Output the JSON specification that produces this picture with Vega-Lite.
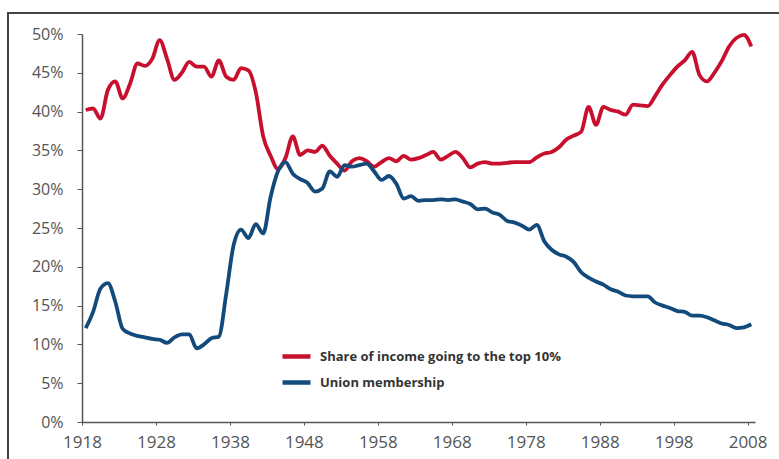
{
  "$schema": "https://vega.github.io/schema/vega-lite/v6.json",
  "width": 673,
  "height": 388,
  "autosize": {"type": "none"},
  "padding": {"left": 82, "top": 34, "right": 24, "bottom": 37},
  "background": "white",
  "config": {"view": {"stroke": null}, "font": "Open Sans"},
  "resolve": {"axis": {"x": "independent", "y": "independent"}},
  "data": {"values": [
    {"t":1918.5,"top10":40.2,"union":12.1},
    {"t":1919.5,"top10":40.4,"union":14.2},
    {"t":1920.5,"top10":39.1,"union":17.2},
    {"t":1921.5,"top10":42.8,"union":17.9},
    {"t":1922.5,"top10":43.9,"union":15.5},
    {"t":1923.5,"top10":41.7,"union":12.0},
    {"t":1924.5,"top10":43.6,"union":11.4},
    {"t":1925.5,"top10":46.2,"union":11.1},
    {"t":1926.5,"top10":45.9,"union":10.9},
    {"t":1927.5,"top10":46.8,"union":10.7},
    {"t":1928.5,"top10":49.2,"union":10.6},
    {"t":1929.5,"top10":46.8,"union":10.2},
    {"t":1930.5,"top10":44.1,"union":10.9},
    {"t":1931.5,"top10":45.0,"union":11.3},
    {"t":1932.5,"top10":46.4,"union":11.3},
    {"t":1933.5,"top10":45.8,"union":9.5},
    {"t":1934.5,"top10":45.8,"union":10.0},
    {"t":1935.5,"top10":44.5,"union":10.8},
    {"t":1936.5,"top10":46.6,"union":11.0},
    {"t":1937.5,"top10":44.5,"union":16.5},
    {"t":1938.5,"top10":44.1,"union":22.8},
    {"t":1939.5,"top10":45.6,"union":24.8},
    {"t":1940.5,"top10":45.3,"union":23.7},
    {"t":1941.5,"top10":42.5,"union":25.5},
    {"t":1942.5,"top10":36.8,"union":24.3},
    {"t":1943.5,"top10":34.3,"union":29.0},
    {"t":1944.5,"top10":32.6,"union":32.3},
    {"t":1945.5,"top10":34.0,"union":33.5},
    {"t":1946.5,"top10":36.8,"union":32.0},
    {"t":1947.5,"top10":34.4,"union":31.3},
    {"t":1948.5,"top10":35.0,"union":30.8},
    {"t":1949.5,"top10":34.8,"union":29.7},
    {"t":1950.5,"top10":35.6,"union":30.1},
    {"t":1951.5,"top10":34.3,"union":32.3},
    {"t":1952.5,"top10":33.3,"union":31.6},
    {"t":1953.5,"top10":32.4,"union":33.1},
    {"t":1954.5,"top10":33.6,"union":32.9},
    {"t":1955.5,"top10":34.0,"union":33.1},
    {"t":1956.5,"top10":33.6,"union":33.3},
    {"t":1957.5,"top10":32.9,"union":32.3},
    {"t":1958.5,"top10":33.5,"union":31.2},
    {"t":1959.5,"top10":34.0,"union":31.7},
    {"t":1960.5,"top10":33.6,"union":30.7},
    {"t":1961.5,"top10":34.3,"union":28.8},
    {"t":1962.5,"top10":33.8,"union":29.1},
    {"t":1963.5,"top10":34.0,"union":28.5},
    {"t":1964.5,"top10":34.4,"union":28.6},
    {"t":1965.5,"top10":34.8,"union":28.6},
    {"t":1966.5,"top10":33.8,"union":28.7},
    {"t":1967.5,"top10":34.3,"union":28.6},
    {"t":1968.5,"top10":34.8,"union":28.7},
    {"t":1969.5,"top10":34.0,"union":28.4},
    {"t":1970.5,"top10":32.8,"union":28.1},
    {"t":1971.5,"top10":33.3,"union":27.4},
    {"t":1972.5,"top10":33.5,"union":27.5},
    {"t":1973.5,"top10":33.3,"union":27.0},
    {"t":1974.5,"top10":33.3,"union":26.7},
    {"t":1975.5,"top10":33.4,"union":25.9},
    {"t":1976.5,"top10":33.5,"union":25.7},
    {"t":1977.5,"top10":33.5,"union":25.3},
    {"t":1978.5,"top10":33.5,"union":24.8},
    {"t":1979.5,"top10":34.1,"union":25.4},
    {"t":1980.5,"top10":34.6,"union":23.3},
    {"t":1981.5,"top10":34.8,"union":22.2},
    {"t":1982.5,"top10":35.4,"union":21.6},
    {"t":1983.5,"top10":36.4,"union":21.3},
    {"t":1984.5,"top10":36.9,"union":20.6},
    {"t":1985.5,"top10":37.4,"union":19.3},
    {"t":1986.5,"top10":40.6,"union":18.6},
    {"t":1987.5,"top10":38.3,"union":18.1},
    {"t":1988.5,"top10":40.6,"union":17.7},
    {"t":1989.5,"top10":40.2,"union":17.1},
    {"t":1990.5,"top10":40.0,"union":16.8},
    {"t":1991.5,"top10":39.6,"union":16.3},
    {"t":1992.5,"top10":40.9,"union":16.2},
    {"t":1993.5,"top10":40.8,"union":16.2},
    {"t":1994.5,"top10":40.7,"union":16.2},
    {"t":1995.5,"top10":42.0,"union":15.4},
    {"t":1996.5,"top10":43.5,"union":15.0},
    {"t":1997.5,"top10":44.7,"union":14.7},
    {"t":1998.5,"top10":45.8,"union":14.3},
    {"t":1999.5,"top10":46.6,"union":14.2},
    {"t":2000.5,"top10":47.7,"union":13.7},
    {"t":2001.5,"top10":44.7,"union":13.7},
    {"t":2002.5,"top10":43.9,"union":13.5},
    {"t":2003.5,"top10":45.0,"union":13.1},
    {"t":2004.5,"top10":46.5,"union":12.7},
    {"t":2005.5,"top10":48.4,"union":12.5},
    {"t":2006.5,"top10":49.5,"union":12.1},
    {"t":2007.5,"top10":49.9,"union":12.2},
    {"t":2008.5,"top10":48.4,"union":12.6}
  ]},
  "layer": [
    {
      "transform": [
        {"fold": ["top10", "union"], "as": ["key", "value"]},
        {"lookup": "key", "from": {"data": {"values": [
          {"key": "top10", "series": "Share of income going to the top 10%"},
          {"key": "union", "series": "Union membership"}
        ]}, "key": "key", "fields": ["series"]}}
      ],
      "mark": {"type": "line", "interpolate": "monotone", "strokeWidth": 3.8},
      "encoding": {
        "x": {
          "field": "t", "type": "quantitative",
          "scale": {"domain": [1918, 2009], "nice": false, "zero": false},
          "axis": {
            "values": [1918, 1928, 1938, 1948, 1958, 1968, 1978, 1988, 1998, 2008],
            "format": "d", "title": null, "grid": false, "labelOverlap": false,
            "domainColor": "#555", "domainWidth": 1.5, "tickColor": "#555", "tickSize": 3,
            "labelFontSize": 17, "labelColor": "#555", "labelPadding": 9, "labelFlush": false
          }
        },
        "y": {
          "field": "value", "type": "quantitative",
          "scale": {"domain": [0, 50], "nice": false},
          "axis": {
            "values": [0, 5, 10, 15, 20, 25, 30, 35, 40, 45, 50],
            "labelExpr": "datum.value + '%'", "title": null, "grid": false, "labelOverlap": false,
            "domainColor": "#555", "domainWidth": 1.5, "tickColor": "#555", "tickSize": 5,
            "labelFontSize": 16, "labelColor": "#555", "labelPadding": 14
          }
        },
        "color": {
          "field": "series", "type": "nominal",
          "scale": {"domain": ["Share of income going to the top 10%", "Union membership"], "range": ["#c8102e", "#134a7c"]},
          "legend": {
            "orient": "none", "legendX": 198, "legendY": 306, "title": null,
            "symbolType": "stroke", "symbolStrokeWidth": 4.5, "symbolSize": 784,
            "labelFontSize": 13, "labelFontWeight": "bold", "labelColor": "#333",
            "labelLimit": 400, "rowPadding": 0, "labelOffset": 7
          }
        }
      }
    },
    {
      "mark": {"type": "rect", "fill": null, "stroke": "#444", "strokeWidth": 1.5},
      "encoding": {
        "x": {"datum": 1908, "type": "quantitative", "axis": null},
        "x2": {"datum": 2016},
        "y": {"datum": 52.7, "type": "quantitative", "axis": null},
        "y2": {"datum": -7}
      }
    }
  ]
}
